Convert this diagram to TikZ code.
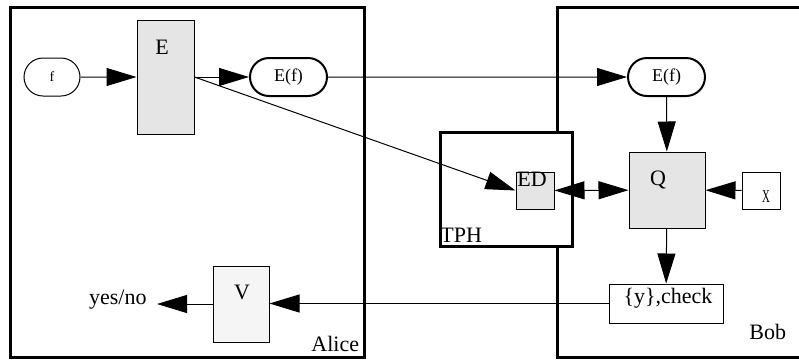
\documentclass[tikz,border=0pt]{standalone}
\usepackage{fontspec}
\setmainfont{Liberation Serif}
\usetikzlibrary{arrows.meta,shapes.misc}
\tikzset{
  frame/.style={line width=1.5pt},
  box/.style={draw, line width=0.5pt, inner sep=0pt},
  gbox/.style={box, fill=black!10},
  pill/.style={draw, rounded rectangle, inner sep=0pt, minimum height=19pt, minimum width=38.5pt, line width=1pt, font=\fontsize{9}{11}\selectfont},
  conn/.style={line width=0.5pt, >={Triangle[length=15pt,width=9pt]}},
  lbl/.style={inner sep=0pt},
}
\begin{document}
\begin{tikzpicture}[x=0.5pt, y=-0.5pt, font=\fontsize{11}{13}\selectfont]
  \clip (0,0) rectangle (799,360);
  % Alice and Bob
  \draw[frame] (10,7) rectangle (364,357);
  \draw[frame] (557,7) rectangle (820,357);
  \node[lbl, anchor=base west] (alice) at (311,351) {Alice};
  \node[lbl, anchor=base west] (bob) at (749,339) {Bob};
  % TPH on top of Bob's border
  \draw[frame, fill=white] (440,132) rectangle (572,246);
  \node[lbl, anchor=base west] (tph) at (440,242) {TPH};
  % boxes
  \node[pill, line width=0.5pt, minimum width=28pt, font=\fontsize{7}{8}\selectfont] (f) at (52,77) {f};
  \node[gbox, minimum width=28.5pt, minimum height=57pt] (E) at (165.5,77) {};
  \node[lbl] (Elbl) at (162,47) {E};
  \node[pill] (Ef) at (288.5,77) {E(f)};
  \node[pill] (Efb) at (666.5,77) {E(f)};
  \node[gbox, minimum width=38pt, minimum height=38pt] (Q) at (667,190) {};
  \node[lbl] (Qlbl) at (658,180) {Q};
  \node[gbox, minimum width=19pt, minimum height=18.5pt] (ED) at (535,190.5) {};
  \node[lbl] (EDlbl) at (532,179) {ED};
  \node[box, minimum width=19pt, minimum height=18.5pt] (X) at (761,190.5) {};
  \node[lbl, font=\fontsize{9}{11}\selectfont] (Xlbl) at (766,197) {\scalebox{0.6}[1]{X}};
  \node[box, minimum width=57pt, minimum height=19.5pt] (chk) at (666,303.5) {};
  \node[lbl] (chklbl) at (668,298) {\{y\},check};
  \node[box, fill=black!4, minimum width=28pt, minimum height=38pt] (V) at (241,304) {};
  \node[lbl] (Vlbl) at (242,292) {V};
  \node[inner xsep=5pt, inner ysep=0pt, anchor=base east] (yn) at (157,304) {yes/no};
  % connectors
  \draw[conn, ->] (f) -- (E);
  \draw[conn, ->] (E.east) -- (Ef);
  \draw[conn, ->] (E.east) -- (ED.west);
  \draw[conn, ->] (Ef) -- (Efb);
  \draw[conn, ->] (Efb) -- (Q);
  \draw[conn, <->] (ED) -- (Q);
  \draw[conn, ->] (X) -- (Q);
  \draw[conn, ->] (Q) -- (chk);
  \draw[conn, ->] (chk.west) -- (V.east |- chk.west);
  \draw[conn, ->] (V.west) -- (V.west -| yn.east);
\end{tikzpicture}
\end{document}
